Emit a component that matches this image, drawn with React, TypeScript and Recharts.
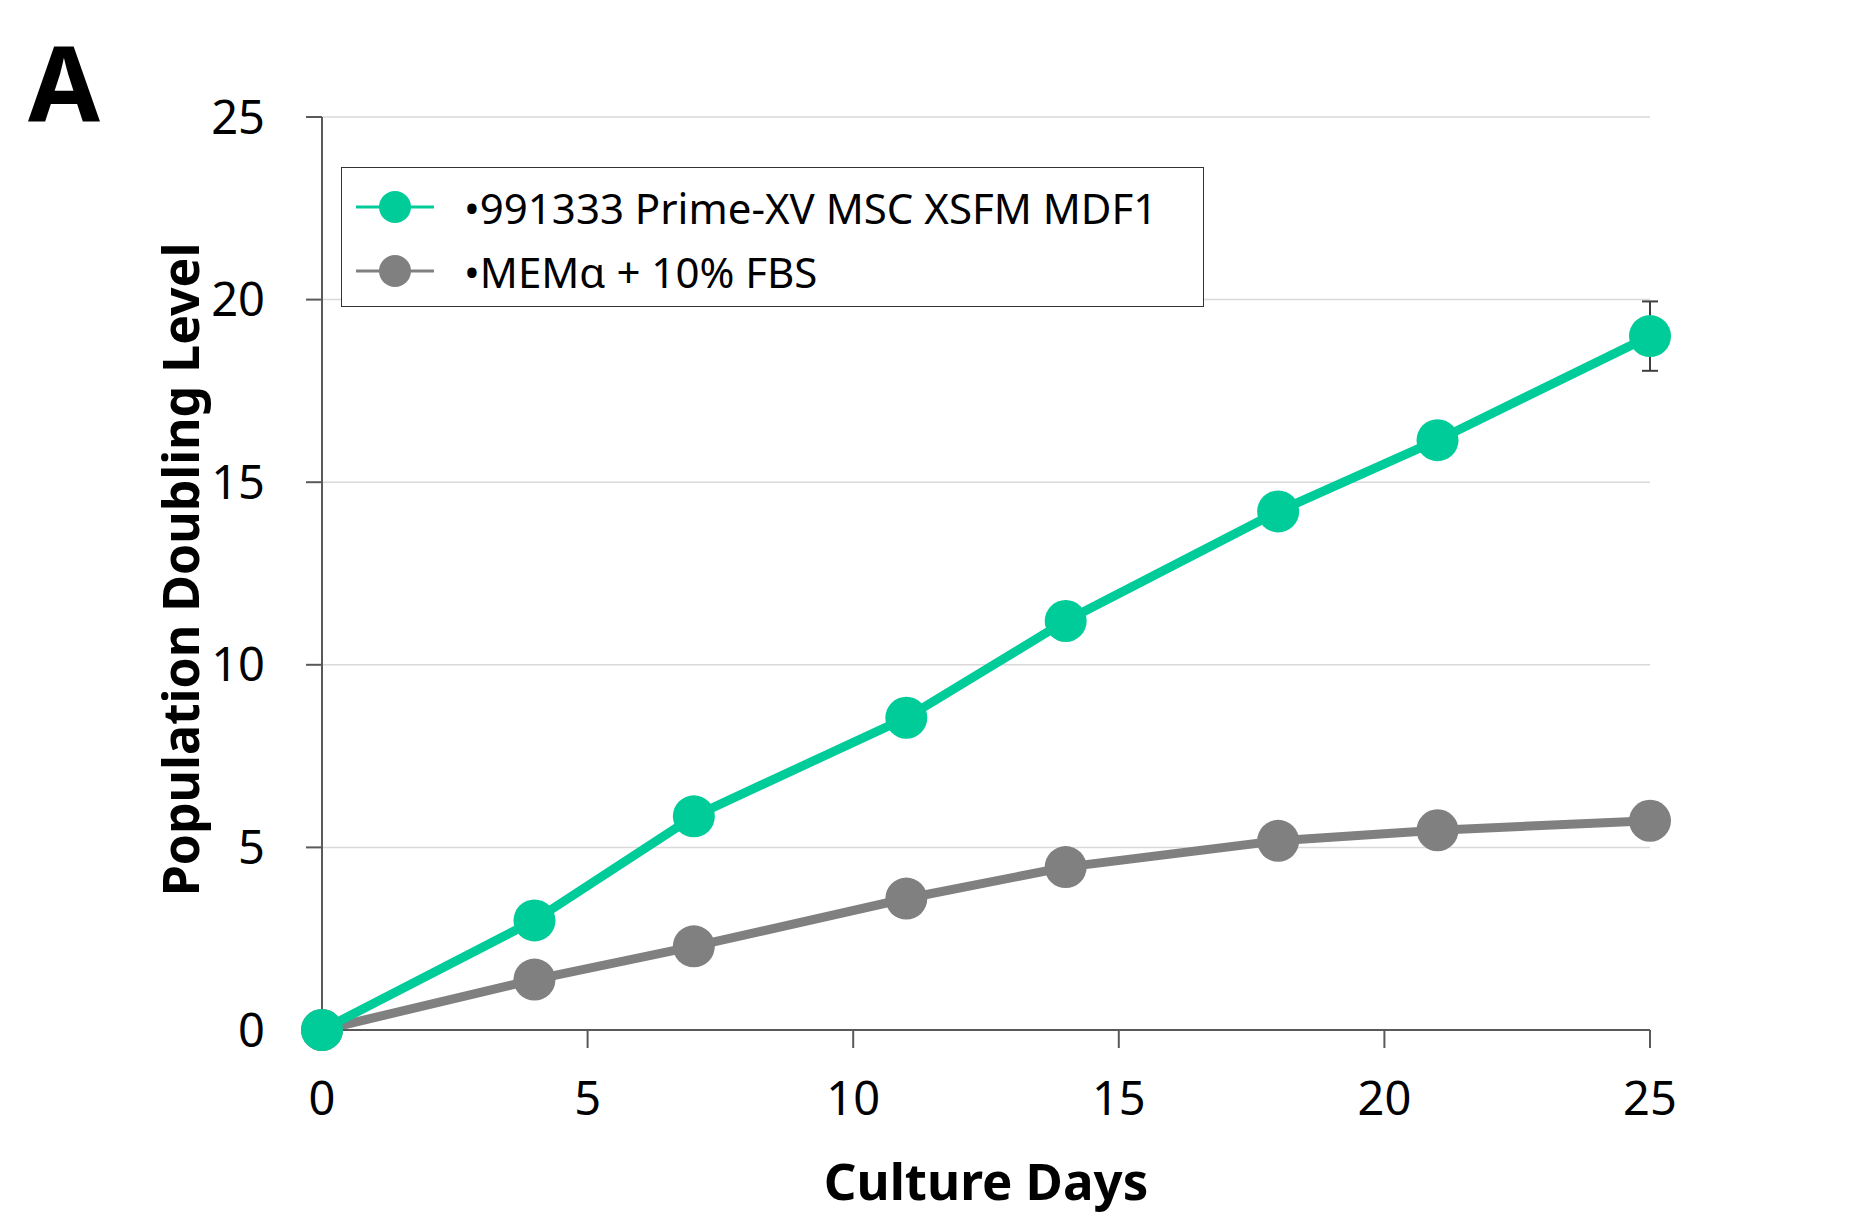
import { LineChart, Line, XAxis, YAxis, CartesianGrid, Legend, ErrorBar } from 'recharts';

const days = [0, 4, 7, 11, 14, 18, 21, 25];
const primeXV = [0, 3.0, 5.85, 8.55, 11.2, 14.2, 16.15, 19.0];
const primeXVErr = [null, null, null, null, null, null, null, 0.95];
const memAlpha = [0, 1.38, 2.29, 3.6, 4.46, 5.18, 5.47, 5.73];
const xTicks = [0, 5, 10, 15, 20, 25];
const yTicks = [0, 5, 10, 15, 20, 25];

const GREEN = '#00CC99';
const GRAY = '#808080';
const FONT = '"Noto Sans", sans-serif';

const data = days.map((d, i) => ({
  day: d,
  prime: primeXV[i],
  primeErr: primeXVErr[i],
  mem: memAlpha[i],
}));

// legend order in the figure: Prime-XV first, MEMa second
const legendItems = [
  { label: '\u2022991333 Prime-XV MSC XSFM MDF1', color: GREEN },
  { label: '\u2022MEM\u03b1 + 10% FBS', color: GRAY },
];

function LegendBox() {
  return (
    <div
      style={{
        width: 863,
        height: 140,
        border: '1.5px solid #333',
        background: '#fff',
        fontFamily: FONT,
        fontSize: 42,
        color: '#000',
        boxSizing: 'border-box',
        paddingTop: 7,
        textAlign: 'left',
      }}
    >
      {legendItems.map((it) => (
        <div key={it.label} style={{ display: 'flex', alignItems: 'center', height: 64 }}>
          <svg width={100} height={40} style={{ marginLeft: 12 }}>
            <line x1={2} y1={20} x2={80} y2={20} stroke={it.color} strokeWidth={3} />
            <circle cx={41} cy={20} r={16} fill={it.color} />
          </svg>
          <span style={{ marginLeft: 10, whiteSpace: 'nowrap' }}>{it.label}</span>
        </div>
      ))}
    </div>
  );
}

export default function App() {
  return (
    <div style={{ position: 'relative', width: 1859, height: 1208 }}>
      <LineChart width={1859} height={1208} data={data} margin={{ top: 109, right: 217, left: 0, bottom: 0 }}>
        <CartesianGrid vertical={false} stroke="#d9d9d9" strokeWidth={1.5} />
        <XAxis
          dataKey="day"
          type="number"
          domain={[0, 25]}
          ticks={xTicks}
          height={186}
          tickSize={18}
          tickMargin={34}
          stroke="#595959"
          strokeWidth={2}
          tick={{ fill: '#000', fontSize: 47, fontFamily: FONT }}
          label={(props: any) => {
            const vb = props.viewBox;
            return (
              <text
                x={vb.x + vb.width / 2}
                y={1192}
                textAnchor="middle"
                fontFamily={FONT}
                fontWeight="bold"
                fontSize={51}
                fill="#000"
              >
                Culture Days
              </text>
            );
          }}
        />
        <YAxis
          type="number"
          domain={[0, 25]}
          ticks={yTicks}
          width={314}
          tickSize={16}
          tickMargin={41}
          stroke="#595959"
          strokeWidth={2}
          tick={{ fill: '#000', fontSize: 47, fontFamily: FONT }}
          label={(props: any) => {
            const vb = props.viewBox;
            const cy = vb.y + vb.height / 2 - 4;
            return (
              <text
                x={172}
                y={cy}
                transform={`rotate(-90 172 ${cy})`}
                textAnchor="middle"
                dominantBaseline="central"
                fontFamily={FONT}
                fontWeight="bold"
                fontSize={50}
                fill="#000"
              >
                Population Doubling Level
              </text>
            );
          }}
        />
        <Legend
          layout="horizontal"
          align="center"
          verticalAlign="middle"
          wrapperStyle={{ top: 159, left: 333, width: 863, height: 140 }}
          content={() => <LegendBox />}
        />
        <Line
          dataKey="mem"
          name="MEMa + 10% FBS"
          stroke={GRAY}
          strokeWidth={9}
          dot={{ r: 21, fill: GRAY, stroke: 'none' }}
          activeDot={false}
          isAnimationActive={false}
        />
        <Line
          dataKey="prime"
          name="991333 Prime-XV MSC XSFM MDF1"
          stroke={GREEN}
          strokeWidth={9}
          dot={{ r: 21, fill: GREEN, stroke: 'none' }}
          activeDot={false}
          isAnimationActive={false}
        >
          <ErrorBar dataKey="primeErr" direction="y" width={8} stroke="#404040" strokeWidth={2} />
        </Line>
      </LineChart>
      <svg width={200} height={150} style={{ position: 'absolute', left: 0, top: 0 }}>
        <text x={20} y={114} fontFamily={FONT} fontWeight="bold" fontSize={104} fill="#000">
          A
        </text>
      </svg>
    </div>
  );
}
